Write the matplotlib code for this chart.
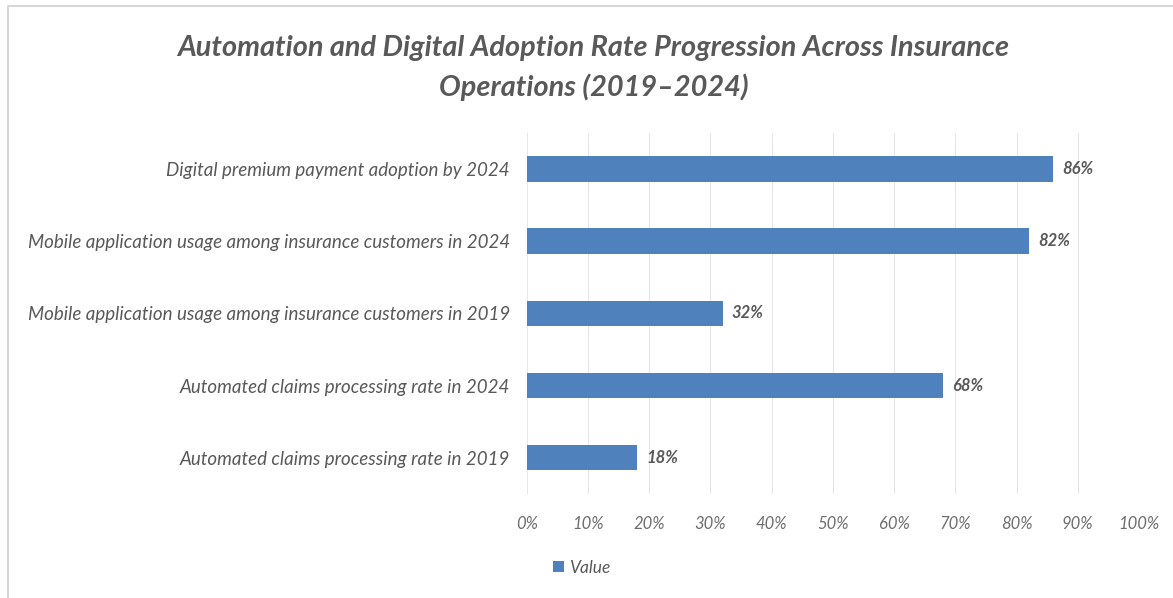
import matplotlib
matplotlib.use("Agg")
import matplotlib.pyplot as plt
from matplotlib.patches import Rectangle
from matplotlib.ticker import MultipleLocator, FuncFormatter

# data (bottom to top, same order as drawn)
categories = [
    "Automated claims processing rate in 2019",
    "Automated claims processing rate in 2024",
    "Mobile application usage among insurance customers in 2019",
    "Mobile application usage among insurance customers in 2024",
    "Digital premium payment adoption by 2024",
]
values = [18, 68, 32, 82, 86]
series_name = "Value"
title = "Automation and Digital Adoption Rate Progression Across Insurance\nOperations (2019\u20132024)"

bar_color = "#4F81BD"
text_color = "#595959"
grid_color = "#E6E6E6"

plt.rcParams['font.family'] = ['Lato', 'DejaVu Sans']

fig = plt.figure(figsize=(11.73, 5.98), dpi=100)
# outer chart border
fig.patches.append(Rectangle((0.007, -0.05), 1.2, 1.04, transform=fig.transFigure,
                             fill=False, edgecolor="#D0D0D0", linewidth=1.2))

ax = fig.add_axes([0.449, 0.174, 0.522, 0.604])
y = range(len(categories))
bars = ax.barh(y, values, height=0.35, color=bar_color, label=series_name, zorder=3)

ax.set_xlim(0, 100)
ax.set_ylim(-0.5, len(categories) - 0.5)
ax.xaxis.set_major_locator(MultipleLocator(10))
ax.xaxis.set_major_formatter(FuncFormatter(lambda v, p: f"{v:.0f}%"))
ax.grid(axis='x', color=grid_color, linewidth=0.8, zorder=0)
for s in ax.spines.values():
    s.set_visible(False)
ax.tick_params(length=0)
ax.tick_params(axis='x', pad=16, labelsize=12, labelcolor="#6E6E6E")
ax.tick_params(axis='y', pad=12, labelsize=13.5, labelcolor=text_color)
ax.set_yticks(list(y))
ax.set_yticklabels(categories, style='italic')
for lbl in ax.get_xticklabels():
    lbl.set_style('italic')

for b, v in zip(bars, values):
    ax.text(b.get_width() + 1.5, b.get_y() + b.get_height() / 2, f"{v}%",
            va='center', ha='left', fontsize=12, style='italic',
            fontweight='bold', color=text_color)

fig.text(0.506, 0.886, title, ha='center', va='center', fontsize=20.8,
         style='italic', fontweight='bold', color=text_color, linespacing=1.55)

ax.legend(loc='center', bbox_to_anchor=(0.09, -0.205), frameon=False,
          handlelength=0.6, handleheight=0.6, handletextpad=0.3,
          prop={'style': 'italic', 'size': 12.5})
for t in ax.get_legend().get_texts():
    t.set_color(text_color)

fig.savefig("out.png", dpi=100, facecolor="white")
